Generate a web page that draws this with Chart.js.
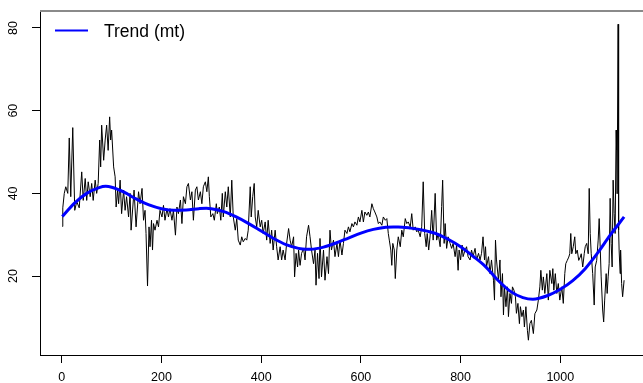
<!DOCTYPE html>
<html>
<head>
<meta charset="utf-8">
<script src="https://cdn.jsdelivr.net/npm/chart.js@4.4.1/dist/chart.umd.min.js"></script>
<style>
  html, body { margin: 0; padding: 0; background: #fff; overflow: hidden; }
  canvas { display: block; }
</style>
</head>
<body>
<canvas id="chart" width="643" height="383"></canvas>
<script>
(function () {
  'use strict';

  var xTicks = [0, 200, 400, 600, 800, 1000];
  var yTicks = [20, 40, 60, 80];

  // observed series, [index, value]
  var observed = [
    [1,32],[2,36.5],[5,40],[8,41.6],[12,40],[15,53.4],[18,39.2],[22,55.9],[26,35.9],[30,38],
    [35,36.5],[40,45.2],[43,38.3],[47,43.6],[50,38.3],[53,42.8],[57,39.2],[60,42.4],[63,38.3],[67,43.2],
    [70,40],[73,42.4],[76,52.9],[78,46.4],[80,56.5],[84,48],[87,52.9],[90,56.5],[93,50.4],[96,58.5],
    [98,52.9],[100,55.3],[104,46.4],[107,44],[109,36.7],[112,40.8],[114,37.5],[117,43.2],[120,35.1],[124,40.8],
    [127,35.9],[130,39.2],[134,34.3],
    [137,40],[139,31.1],[145,40.8],[149,31.9],[154,40.4],[157,37.5],[161,41.2],[164,33.5],[167,35.9],[169,30.3],
    [172,17.6],[175,31.9],[177,27.1],[180,33.5],[182,26.3],[184,32.7],[187,31.1],[191,33.5],[194,31.9],[197,35.9],
    [201,34.3],[204,37.1],[207,33.5],[211,36.3],[214,34.3],[217,36.3],[221,33.5],[224,35.9],[228,29.9],[231,36.7],
    [234,35.1],[238,38.4],[241,32.7],[244,39.2],[248,37.5],[251,41.6],[254,42.4],[258,38.4],[261,40.4],[264,33.5],
    [268,40.8],[271,41.6],[274,38.4],[278,40.4],[281,37.5],[284,41.6],[288,42.8],[291,40.4],[294,44],[296,39.2],
    [299,34.3],[303,35.1],[306,33.5],[310,37.5],[312,35.1],[316,36.7],[319,33.5],[322,40],[324,34.3],[328,40.4],
    [331,36.7],[334,41.6],[338,34.3],
    [341,43.2],[344,34.3],[348,31.1],[351,33.9],[354,28.7],[358,27.5],[361,29.5],[364,28.3],[368,29.1],[371,28.7],
    [374,31.1],[378,41.6],[380,34.3],[383,39.2],[386,42.4],[388,34.3],[391,31.9],[394,35.9],[398,31.9],[401,33.5],
    [404,30.3],[408,33.1],[411,28.7],[414,33.5],[418,27.9],[421,31.1],[424,26.3],[428,31.1],[431,27.1],[434,23.9],
    [438,27.1],[441,23.9],[444,26.3],[448,23.9],[451,27.9],[455,31.5],[458,28.7],[461,27.1],[465,29.5],[467,19.8],
    [470,25.5],[473,22.2],[475,26.3],[478,22.6],[481,25.5],[485,26.7],[488,23.9],[491,29.5],[495,32.3],[498,29.5],
    [501,26.3],[505,23],[508,26.3],[510,17.8],[513,25.5],[516,19.4],[518,29.1],[521,19.8],[525,26.3],[528,19],
    [532,24.7],[535,20.6],[538,31.1],
    [541,26.3],[545,28.7],[548,24.7],[552,27.9],[555,24.7],[558,28.7],[562,25.1],[565,27.9],[568,31.1],[572,30.3],
    [575,31.9],[578,30.7],[582,32.7],[585,31.9],[588,33.1],[592,32.3],[595,34.3],[598,33.1],[602,35.9],[605,33.1],
    [608,35.5],[612,34.7],[615,35.5],[618,34.3],[622,37.5],[625,36.3],[628,35.5],[632,34.3],[635,32.7],[638,33.1],
    [642,32.3],[645,34.3],[649,33.5],[652,33.9],[655,30.3],[657,28.7],[660,26.3],[662,22.6],[664,27.9],[667,26.3],
    [669,19.4],[672,26.3],[675,29.5],[679,27.1],[682,31.1],[685,29.5],[689,33.9],[692,32.7],[695,33.1],[699,31.9],
    [702,35.1],[705,31.1],[709,31.9],[712,30.7],[715,31.1],[719,29.5],[722,31.9],[725,42.8],[728,30.3],[731,27.1],
    [733,30.3],[736,26.3],[739,29.9],[742,35.9],
    [745,28.7],[749,40],[752,28.7],[755,30.3],[759,27.1],[762,36.8],[764,43.2],[767,27.9],[769,32.7],[772,26.7],
    [775,29.5],[779,27.9],[782,26.7],[785,27.9],[789,24.7],[792,27.5],[795,21.4],[797,26.3],[800,23.9],[803,27.5],
    [805,24.7],[809,26.3],[812,27.1],[815,24.7],[819,23.9],[822,26.3],[825,24.7],[829,26.7],[832,23.9],[836,25.5],
    [839,23.9],[842,25.5],[845,29.5],[848,23.9],[850,27.1],[852,22.2],[856,24.7],[859,20.6],[862,23.9],[866,19],
    [868,14.2],[870,28.7],[872,23.9],[876,19],[879,23.9],[881,15],[884,20.6],[886,10.6],[888,17.4],[891,12.6],
    [894,17.4],[896,10.2],[899,15.8],[902,13.4],[904,17.4],[907,16.6],[910,15],[912,11],[915,13.4],[918,8.5],
    [920,12.6],[923,10.2],[926,11.8],[928,7.7],[931,12.6],[934,6.9],[936,4.5],[939,8.5],
    [942,9.3],[946,6.1],[949,10.9],[953,11.8],[956,14.2],[959,17.4],[961,21.4],[964,16.6],[966,19.8],[969,15.8],
    [973,20.6],[976,14.2],[979,21.4],[983,18.2],[985,21.8],[987,16.6],[990,20.6],[993,15.8],[996,18.2],[999,14.2],
    [1003,17.4],[1006,13.4],[1009,20.6],[1011,23],[1014,23.8],[1017,24.6],[1019,25.4],[1021,30.3],[1023,25.4],[1026,27.1],
    [1029,29.5],[1031,25.4],[1034,26.3],[1037,23.8],[1040,24.6],[1042,25.4],[1045,22.2],[1048,25.4],[1050,27.1],[1053,27.9],
    [1056,25.4],[1058,41.2],[1060,30.3],[1062,25.4],[1065,20.6],[1068,13],[1070,22.2],[1073,23.8],[1076,28.7],[1078,33.9],
    [1080,27.1],[1082,19.8],[1085,11.8],[1087,8.9],[1089,14.2],[1092,20.6],[1094,15.8],[1096,19.8],[1098,23],[1100,38.8],
    [1102,27.9],[1104,22.2],[1106,43.2],[1108,35.1],[1110,30.3],[1112,55.3],[1113,50.4],[1114,39.9],[1116,80.9],[1117,31.1],
    [1118,26.3],[1120,20.6],[1121,26.3],[1123,18.2],[1125,15],[1128,19]
  ];

  // smooth trend (mt)
  var trend = [
    [1,34.4],[25,37.6],[50,40.0],[75,41.4],[88,41.7],[100,41.5],[125,40.3],[150,38.6],[175,37.2],[200,36.3],
    [225,35.9],[250,36.0],[275,36.3],[290,36.4],[300,36.3],[325,35.6],[350,34.3],[375,32.7],[400,30.9],[425,29.1],
    [450,27.6],[475,26.7],[490,26.5],[500,26.5],[525,27.0],[550,28.0],[575,29.2],[600,30.4],[625,31.3],[650,31.8],
    [665,31.9],[675,31.9],[700,31.6],[725,31.1],[750,30.3],[775,28.9],[800,27.1],[825,24.8],[850,22.3],[875,19.0],
    [900,16.3],[925,14.8],[945,14.4],[975,15.3],[1000,16.8],[1025,18.9],[1050,21.8],[1075,25.6],[1100,29.9],[1128,34.3]
  ];

  var FONT = 'Helvetica, Arial, "Liberation Sans", sans-serif';

  function toXY(list) {
    return list.map(function (p) { return { x: p[0], y: p[1] }; });
  }

  function setTicks(values) {
    return function (scale) {
      scale.ticks = values.map(function (v) { return { value: v }; });
    };
  }

  // box top edge, rotated y labels and the legend, drawn the R way
  var rDecor = {
    id: 'rDecor',
    afterDraw: function (chart) {
      var ctx = chart.ctx, a = chart.chartArea, ys = chart.scales.y;
      ctx.save();
      ctx.strokeStyle = '#8a8a8a';
      ctx.lineWidth = 2;
      ctx.beginPath();
      ctx.moveTo(a.left, a.top);
      ctx.lineTo(chart.width, a.top);
      ctx.stroke();

      ctx.fillStyle = '#000';
      ctx.font = '12.5px ' + FONT;
      ctx.textAlign = 'center';
      ctx.textBaseline = 'middle';
      yTicks.forEach(function (v) {
        ctx.save();
        ctx.translate(14, ys.getPixelForValue(v));
        ctx.rotate(-Math.PI / 2);
        ctx.fillText(String(v), 0, 0);
        ctx.restore();
      });

      var ds = chart.data.datasets[0];
      ctx.strokeStyle = ds.borderColor;
      ctx.lineWidth = 2.2;
      ctx.beginPath();
      ctx.moveTo(a.left + 15, a.top + 19.5);
      ctx.lineTo(a.left + 48, a.top + 19.5);
      ctx.stroke();
      ctx.font = '17.5px ' + FONT;
      ctx.textAlign = 'left';
      ctx.fillText(ds.label, a.left + 64, a.top + 21);
      ctx.restore();
    }
  };

  var axisGrid = { drawOnChartArea: false, drawTicks: true, tickLength: 8, color: '#000', lineWidth: 1 };
  var axisBorder = { display: true, color: '#000', width: 1 };

  new Chart(document.getElementById('chart'), {
    type: 'line',
    data: {
      datasets: [
        {
          label: 'Trend (mt)',
          data: toXY(trend),
          borderColor: '#0000ff',
          borderWidth: 3,
          pointRadius: 0,
          cubicInterpolationMode: 'monotone',
          fill: false
        },
        {
          label: 'observed',
          data: toXY(observed),
          borderColor: '#000',
          borderWidth: 1,
          pointRadius: 0,
          tension: 0,
          fill: false
        }
      ]
    },
    options: {
      responsive: false,
      animation: false,
      devicePixelRatio: 1,
      layout: { padding: { top: 11, right: 0, bottom: 0, left: 0 } },
      plugins: { legend: { display: false }, tooltip: { enabled: false } },
      scales: {
        x: {
          type: 'linear',
          min: -43.7,
          max: 1165.9,
          afterBuildTicks: setTicks(xTicks),
          afterFit: function (s) { s.height = 28; },
          grid: axisGrid,
          border: axisBorder,
          ticks: {
            color: '#000',
            font: { size: 12.5, family: FONT },
            padding: 7,
            maxRotation: 0,
            autoSkip: false,
            callback: function (v) { return String(v); }
          }
        },
        y: {
          type: 'linear',
          min: 0.92,
          max: 84.1,
          afterBuildTicks: setTicks(yTicks),
          afterFit: function (s) { s.width = 40; },
          grid: axisGrid,
          border: axisBorder,
          ticks: { display: false }
        }
      }
    },
    plugins: [rDecor]
  });
})();
</script>
</body>
</html>
